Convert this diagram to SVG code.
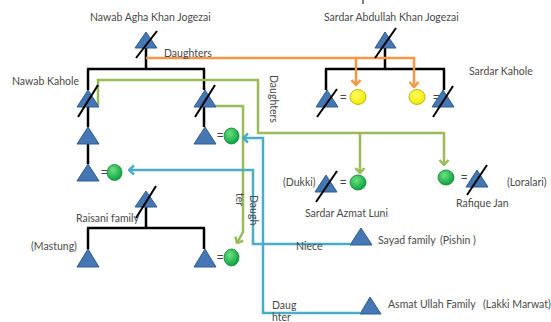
<svg xmlns="http://www.w3.org/2000/svg" width="551" height="322" viewBox="0 0 551 322">
<defs>
<style>
.t{font-family:"Lato","Liberation Sans",sans-serif;font-size:10.5px;fill:#4a4a4a}
.eq{font-family:"Liberation Sans",sans-serif;font-size:11px;fill:#404040}
.k{stroke:#000;stroke-width:2.5;fill:none}
.s{stroke:#000;stroke-width:2;fill:none}
.tri{fill:#4477B4;stroke:#2F5C8F;stroke-width:1}
.gc{fill:url(#gg);stroke:#1E7D32;stroke-width:0.8}
.yc{fill:url(#yg);stroke:#A8A800;stroke-width:0.8}
.or{stroke:#F79646;stroke-width:2.5;fill:none}
.gr{stroke:#9BBB59;stroke-width:2.5;fill:none}
.bl{stroke:#4BACC6;stroke-width:2.5;fill:none}
</style>
<radialGradient id="gg" cx="0.4" cy="0.35" r="0.7">
<stop offset="0" stop-color="#6FE07E"/><stop offset="1" stop-color="#00A040"/>
</radialGradient>
<radialGradient id="yg" cx="0.4" cy="0.35" r="0.7">
<stop offset="0" stop-color="#FFFF60"/><stop offset="1" stop-color="#F2E600"/>
</radialGradient>
<marker id="ao" viewBox="-7 -6 8 12" refX="0" refY="0" markerWidth="8" markerHeight="12" markerUnits="userSpaceOnUse" orient="auto"><path d="M-5,-4.5 L0,0 L-5,4.5" fill="none" stroke="#F79646" stroke-width="2.5"/></marker>
<marker id="ag" viewBox="-7 -6 8 12" refX="0" refY="0" markerWidth="8" markerHeight="12" markerUnits="userSpaceOnUse" orient="auto"><path d="M-5,-4.5 L0,0 L-5,4.5" fill="none" stroke="#9BBB59" stroke-width="2.5"/></marker>
<marker id="ab" viewBox="-7 -6 8 12" refX="0" refY="0" markerWidth="8" markerHeight="12" markerUnits="userSpaceOnUse" orient="auto"><path d="M-5,-4.5 L0,0 L-5,4.5" fill="none" stroke="#4BACC6" stroke-width="2.5"/></marker>
</defs>
<rect width="551" height="322" fill="#fff"/>
<line x1="363" y1="0" x2="363" y2="4" stroke="#555" stroke-width="1.5"/>

<g id="connectors">
<path class="k" d="M146,48 V69 M87,69 H205 M88,69 V90 M204,69 V90 M88,107 V127 M204,107 V127 M88,144 V164"/>
<path class="k" d="M385,48 V69 M325,69 H445 M326,69 V90 M444,69 V90"/>
<path class="k" d="M146,207 V228 M87,228 H205 M88,228 V249 M204,228 V249"/>
<path class="or" d="M146,58 H414 V87" marker-end="url(#ao)"/>
<path class="or" d="M356,58 V85" marker-end="url(#ao)"/>
<path class="gr" d="M98,105 V80 H258 V133 H444 V165" marker-end="url(#ag)"/>
<path class="gr" d="M360,133 V173" marker-end="url(#ag)"/>
<path class="gr" d="M215,106 H243 V232 L237,243" marker-end="url(#ag)"/>
<path class="bl" d="M350,244 H253 V170 H129" marker-end="url(#ab)"/>
<path class="bl" d="M360,313 H263 V138 H243" marker-end="url(#ab)"/>
</g>

<g id="nawab-agha-khan-jogezai">
<polygon class="tri" points="135,48 146,32 157,48"/>
<line class="s" x1="136" y1="58" x2="157" y2="31"/>
<text class="t" x="90" y="21">Nawab Agha Khan Jogezai</text>
</g>
<text class="t" x="164" y="57">Daughters</text>
<text class="t" transform="translate(270,75) rotate(90)">Daughters</text>

<g id="sardar-abdullah-khan-jogezai">
<polygon class="tri" points="375,48 385,32 396,48"/>
<line class="s" x1="375" y1="58" x2="396" y2="28"/>
<text class="t" x="324" y="21">Sardar Abdullah Khan Jogezai</text>
</g>

<g id="nawab-kahole">
<polygon class="tri" points="77,107 88,90 99,107"/>
<line class="s" x1="78" y1="117" x2="98" y2="85"/>
<text class="t" x="12" y="85">Nawab Kahole</text>
</g>
<g id="brother">
<polygon class="tri" points="194,107 205,90 216,107"/>
<line class="s" x1="195" y1="117" x2="215" y2="85"/>
</g>
<g id="son-1">
<polygon class="tri" points="77,144 88,127 99,144"/>
</g>
<g id="son-2">
<polygon class="tri" points="194,144 205,127 216,144"/>
<text class="eq" x="217" y="139">=</text>
<ellipse class="gc" cx="231.5" cy="136" rx="7.5" ry="8"/>
</g>
<g id="grandson">
<polygon class="tri" points="77,181 88,164 99,181"/>
<text class="eq" x="101" y="176">=</text>
<ellipse class="gc" cx="114.5" cy="172.5" rx="7.5" ry="8"/>
</g>

<g id="sardar-kahole-left">
<polygon class="tri" points="316,107 327,90 338,107"/>
<line class="s" x1="317" y1="117" x2="337" y2="89"/>
<text class="eq" x="340" y="101">=</text>
<ellipse class="yc" cx="358" cy="97" rx="8" ry="7.5"/>
</g>
<g id="sardar-kahole-right">
<ellipse class="yc" cx="417" cy="97" rx="8" ry="7.5"/>
<text class="eq" x="433" y="101">=</text>
<polygon class="tri" points="432,107 443,90 454,107"/>
<line class="s" x1="433" y1="117" x2="453" y2="86"/>
<text class="t" x="469" y="75">Sardar Kahole</text>
</g>

<g id="sardar-azmat-luni">
<polygon class="tri" points="315,192 326,175 337,192"/>
<line class="s" x1="316" y1="202" x2="337" y2="171"/>
<text class="eq" x="340" y="186">=</text>
<ellipse class="gc" cx="358" cy="182.5" rx="8" ry="7.5"/>
<text class="t" x="283" y="186">(Dukki)</text>
<text class="t" x="305" y="217">Sardar Azmat Luni</text>
</g>

<g id="rafique-jan">
<ellipse class="gc" cx="446" cy="177.5" rx="8" ry="7.5"/>
<text class="eq" x="461" y="181">=</text>
<polygon class="tri" points="466,187 477,170 488,187"/>
<line class="s" x1="467" y1="195" x2="487" y2="165"/>
<text class="t" x="456" y="207">Rafique Jan</text>
<text class="t" x="507" y="186">(Loralari)</text>
</g>

<g id="raisani-family">
<polygon class="tri" points="135,207 146,191 157,207"/>
<line class="s" x1="136" y1="218" x2="156" y2="186"/>
<text class="t" x="76" y="222">Raisani family</text>
</g>
<g id="mastung">
<polygon class="tri" points="77,267 88,249 99,267"/>
<text class="t" x="31" y="250">(Mastung)</text>
</g>
<g id="raisani-son">
<polygon class="tri" points="194,267 205,249 216,267"/>
<text class="eq" x="217" y="261">=</text>
<ellipse class="gc" cx="231.5" cy="257.5" rx="7.5" ry="8.5"/>
</g>
<text class="t" transform="translate(250,195) rotate(90)">Daugh</text>
<text class="t" transform="translate(236,193) rotate(90)">ter</text>

<g id="sayad-family">
<polygon class="tri" points="350,245 361,228 372,245"/>
<text class="t" x="378" y="244">Sayad family</text>
<text class="t" x="440" y="244">(Pishin )</text>
<text class="t" x="296" y="250">Niece</text>
</g>

<g id="asmat-ullah-family">
<polygon class="tri" points="360,314 370,297 381,314"/>
<text class="t" x="388" y="308">Asmat Ullah Family</text>
<text class="t" x="483" y="308">(Lakki Marwat)</text>
<text class="t" x="272" y="309">Daug</text>
<text class="t" x="272" y="321">hter</text>
</g>
</svg>
